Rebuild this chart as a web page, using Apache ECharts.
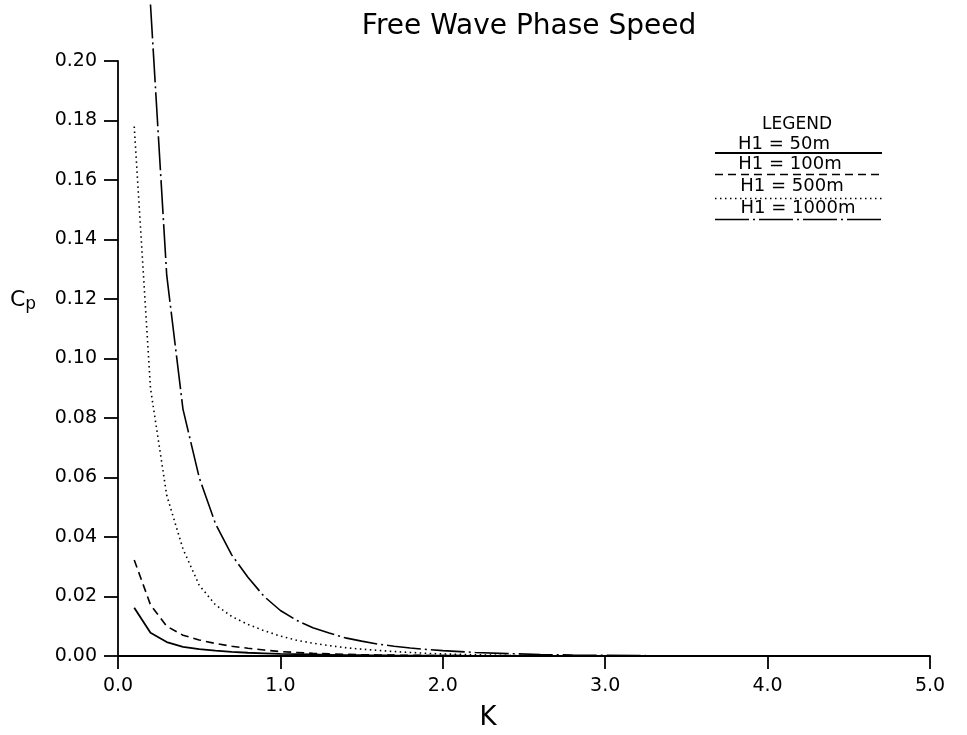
<!DOCTYPE html>
<html>
<head>
<meta charset="utf-8">
<script src="https://cdn.jsdelivr.net/npm/echarts@6/dist/echarts.min.js"></script>
<style>
html,body{margin:0;padding:0;background:#fff;}
#chart{width:967px;height:735px;}
</style>
</head>
<body>
<div id="chart"></div>
<script>
// Wavenumber K (x axis)
const kValues = [0.1,0.2,0.3,0.4,0.5,0.6,0.7,0.8,0.9,1.0,
                 1.1,1.2,1.3,1.4,1.5,1.6,1.7,1.8,1.9,2.0,
                 2.2,2.4,2.6,2.8,3.0,3.2,3.4,3.6,3.8,4.0,
                 4.2,4.4,4.6,4.8,5.0];
// Phase speed Cp for each layer depth H1
const h50 = [0.0162,0.0078,0.0047,0.0031,0.0023,0.0018,0.0014,0.0011,0.0009,0.0007,
             0.0006,0.0005,0.0004,0.00032,0.00026,0.00021,0.00017,0.00014,0.00011,0.00009,
             0.00006,0.00004,0.00003,0.00002,0.00001,0.00001,0.00001,0,0,0,
             0,0,0,0,0];
const h100 = [0.0323,0.0172,0.0100,0.0070,0.0054,0.0042,0.0033,0.0026,0.0020,0.0015,
              0.0012,0.0009,0.0007,0.00055,0.00044,0.00035,0.00028,0.00022,0.00018,0.00014,
              0.00009,0.00006,0.00004,0.00003,0.00002,0.00001,0.00001,0,0,0,
              0,0,0,0,0];
const h500 = [0.178,0.090,0.054,0.036,0.0238,0.0172,0.0133,0.0106,0.0085,0.0067,
              0.0053,0.0043,0.0035,0.0028,0.0023,0.0019,0.0015,0.0012,0.0009,0.0007,
              0.0004,0.0002,0.00012,0.00007,0.00004,0.00002,0.00001,0,0,0,
              0,0,0,0,0];
const h1000 = [null,0.219,0.128,0.083,0.060,0.0445,0.0340,0.0265,0.0200,0.0153,
               0.0120,0.0095,0.0077,0.0061,0.0050,0.0040,0.0033,0.0027,0.0022,0.0018,
               0.0012,0.0008,0.0005,0.0003,0.0002,0.00012,0.00008,0.00005,0.00003,0.00002,
               0.00001,0.00001,0,0,0];
const seriesNames = ['H1 = 50m','H1 = 100m','H1 = 500m','H1 = 1000m'];
const titleText = 'Free Wave Phase Speed';
const xAxisName = 'K';

const FONT = 'DejaVu Sans';
const pairs = arr => kValues.map((k,i) => [k, arr[i]]);
const dashStyles = [
  {type:'solid', width:1.8},
  {type:[8,5], width:1.6},
  {type:[1.5,3.5], width:1.6},
  {type:[34,4,2,4], width:1.6}
];
const allData = [h50,h100,h500,h1000];

const chart = echarts.init(document.getElementById('chart'), null, {renderer:'canvas'});

const legendGraphics = [];
legendGraphics.push({type:'text', x:797, y:125, style:{text:'LEGEND', font:'17px "'+FONT+'"', fill:'#000', align:'center', verticalAlign:'middle'}});
const rowText = [[784,144],[790,164],[792,186],[798,208]];
const rowLine = [153,174.5,198.5,219.5];
for (let i=0;i<4;i++){
  legendGraphics.push({type:'text', x:rowText[i][0], y:rowText[i][1], style:{text:seriesNames[i], font:'18px "'+FONT+'"', fill:'#000', align:'center', verticalAlign:'middle'}});
  legendGraphics.push({type:'line', shape:{x1:715,y1:rowLine[i],x2:882,y2:rowLine[i]}, style:{stroke:'#000', lineWidth:dashStyles[i].width, lineDash: dashStyles[i].type==='solid'?null:dashStyles[i].type}});
}

chart.setOption({
  animation:false,
  backgroundColor:'#fff',
  grid:{left:118, right:37, top:61, bottom:79, containLabel:false},
  xAxis:{
    type:'value', min:0, max:5, interval:1,
    axisLine:{show:true, onZero:false, lineStyle:{color:'#000', width:1.8}},
    axisTick:{show:true, length:13, lineStyle:{color:'#000', width:1.8}},
    axisLabel:{margin:21, color:'#000', fontFamily:FONT, fontSize:19, formatter:v=>v.toFixed(1)},
    splitLine:{show:false}
  },
  yAxis:{
    type:'value', min:0, max:0.2, interval:0.02,
    axisLine:{show:true, onZero:false, lineStyle:{color:'#000', width:1.8}},
    axisTick:{show:true, length:14, lineStyle:{color:'#000', width:1.8}},
    axisLabel:{margin:21, color:'#000', fontFamily:FONT, fontSize:19, formatter:v=>v.toFixed(2)},
    splitLine:{show:false}
  },
  series: allData.map((arr,i)=>({
    name:seriesNames[i], type:'line', data:pairs(arr), showSymbol:false, symbol:'none',
    clip:false, smooth:false, connectNulls:false,
    lineStyle:{color:'#000', width:dashStyles[i].width, type:dashStyles[i].type}
  })),
  graphic:[
    {type:'text', x:529, y:27, style:{text:titleText, font:'28px "'+FONT+'"', fill:'#000', align:'center', verticalAlign:'middle'}},
    {type:'text', x:488, y:718, style:{text:xAxisName, font:'26px "'+FONT+'"', fill:'#000', align:'center', verticalAlign:'middle'}},
    {type:'text', x:10, y:300, style:{text:'{c|C}{p|p}', fill:'#000', verticalAlign:'middle',
      rich:{c:{fontFamily:FONT, fontSize:22, fill:'#000'}, p:{fontFamily:FONT, fontSize:17, fill:'#000', padding:[10,0,0,0]}}}}
  ].concat(legendGraphics)
});
</script>
</body>
</html>
